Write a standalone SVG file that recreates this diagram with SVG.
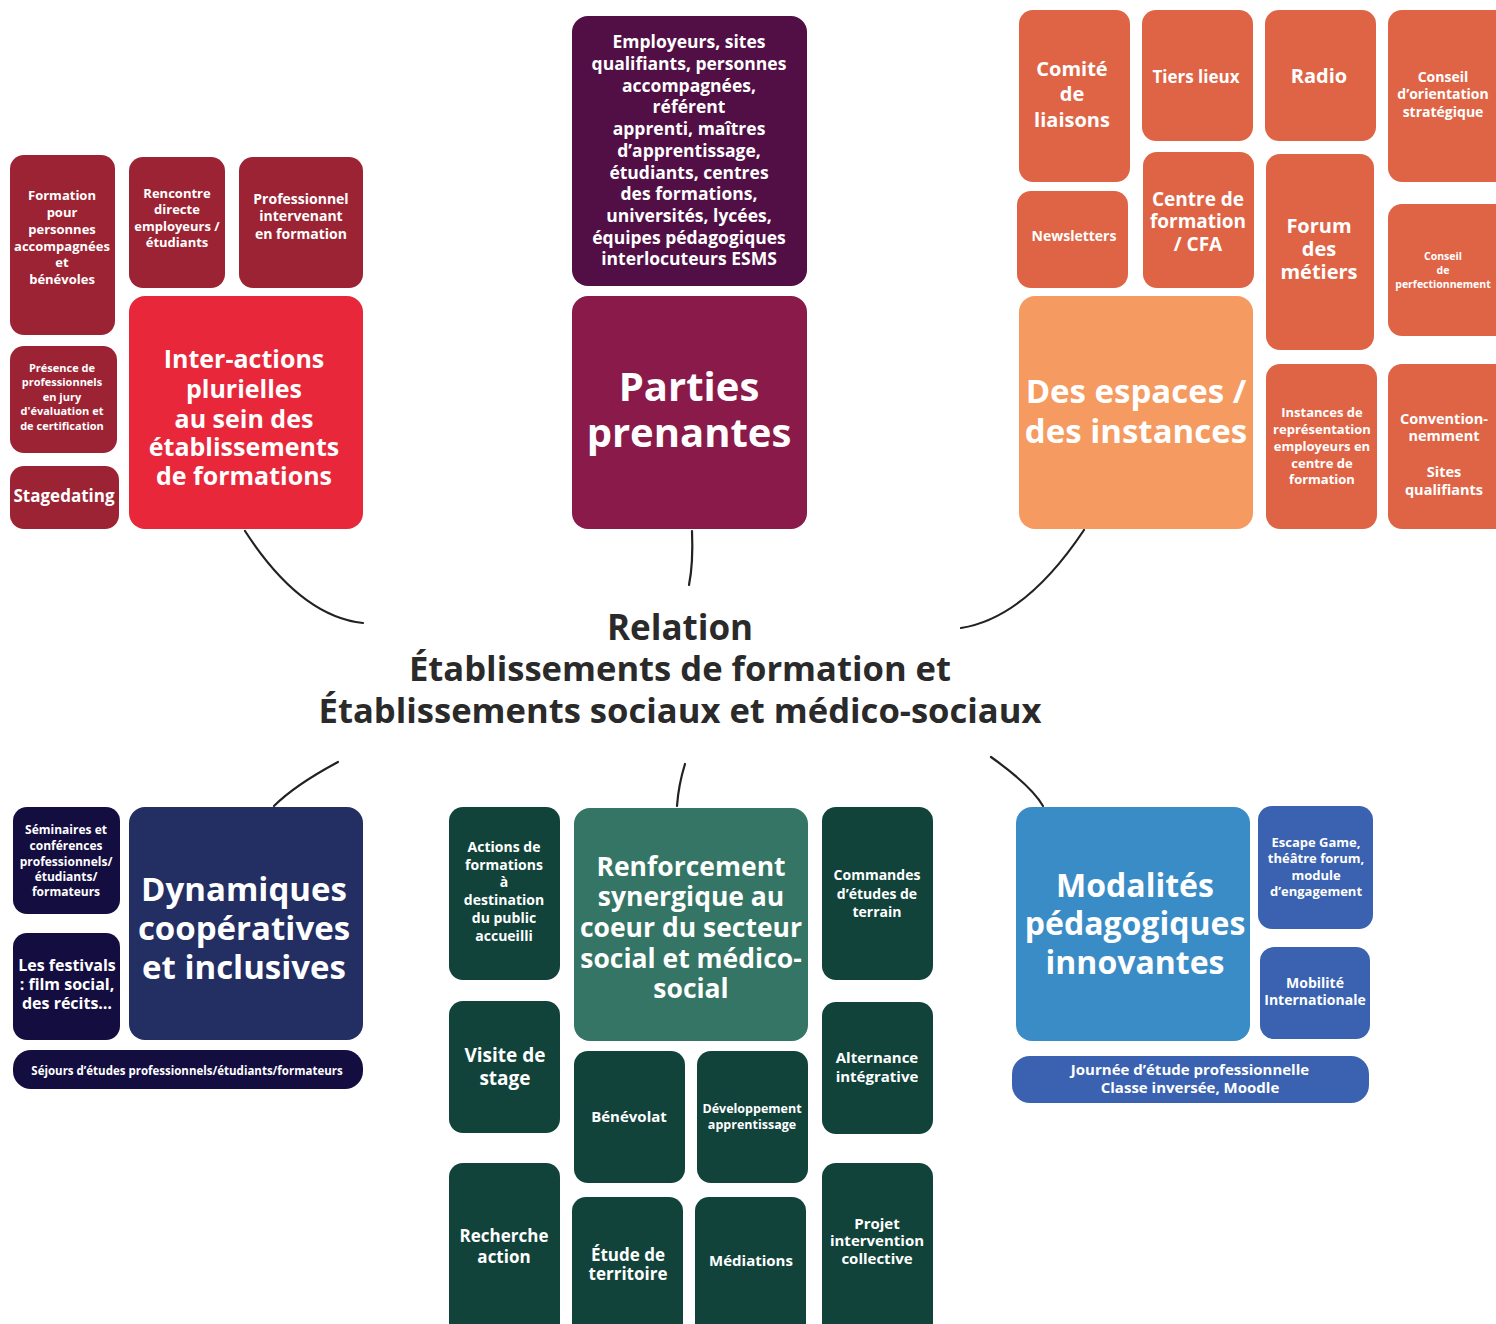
<svg xmlns="http://www.w3.org/2000/svg" width="1496" height="1324" viewBox="0 0 1496 1324">
<style>
text{font-family:"Open Sans","Noto Sans","Liberation Sans",sans-serif;font-weight:bold;fill:#fff;text-anchor:middle;dominant-baseline:central}
.title text,text.title{fill:#2a2a2a}
.dr{fill:#9c2333}
.red{fill:#e8283a}
.plum{fill:#520f45}
.wine{fill:#8a1a4a}
.org{fill:#df6446}
.lorg{fill:#f59a60}
.navy{fill:#140d40}
.blue2{fill:#232e63}
.dg{fill:#11433b}
.mg{fill:#357565}
.sky{fill:#3a8cc7}
.rb{fill:#3a62b0}
.conn path{fill:none;stroke:#222;stroke-width:2.2;stroke-linecap:round}
</style>
<rect width="1496" height="1324" fill="#fff"/>

<g class="conn" id="connectors">
<path d="M245,531 C280,585 318,618 363,623"/>
<path d="M692,531 C693,555 692,570 689,585"/>
<path d="M1084,530 C1052,578 1012,620 961,628"/>
<path d="M338,762 C310,777 290,790 274,806"/>
<path d="M685,764 C680,780 678,792 677,806"/>
<path d="M991,757 C1012,772 1034,790 1043,806"/>
</g>

<g id="center" class="title">
<text x="680" y="626" style="font-size:35px">Relation</text>
<text x="680" y="667" style="font-size:34.6px">Établissements de formation et</text>
<text x="680" y="709" style="font-size:34.6px">Établissements sociaux et médico-sociaux</text>
</g>

<!-- Top-left cluster -->
<g id="n-formation"><rect class="dr" x="10" y="155" width="105" height="180" rx="14"/>
<text style="font-size:13px"><tspan x="62" y="195">Formation</tspan><tspan x="62" y="212">pour</tspan><tspan x="62" y="229">personnes</tspan><tspan x="62" y="246">accompagnées</tspan><tspan x="62" y="262">et</tspan><tspan x="62" y="279">bénévoles</tspan></text></g>
<g id="n-rencontre"><rect class="dr" x="129" y="157" width="96" height="131" rx="14"/>
<text style="font-size:13px"><tspan x="177" y="193">Rencontre</tspan><tspan x="177" y="209">directe</tspan><tspan x="177" y="226">employeurs /</tspan><tspan x="177" y="242">étudiants</tspan></text></g>
<g id="n-professionnel"><rect class="dr" x="239" y="157" width="124" height="131" rx="14"/>
<text style="font-size:14px"><tspan x="301" y="198">Professionnel</tspan><tspan x="301" y="215">intervenant</tspan><tspan x="301" y="233">en formation</tspan></text></g>
<g id="n-presence"><rect class="dr" x="10" y="346" width="107" height="107" rx="14"/>
<text style="font-size:11px"><tspan x="62" y="367">Présence de</tspan><tspan x="62" y="381">professionnels</tspan><tspan x="62" y="396">en jury</tspan><tspan x="62" y="410">d'évaluation et</tspan><tspan x="62" y="425">de certification</tspan></text></g>
<g id="n-stagedating"><rect class="dr" x="10" y="466" width="109" height="63" rx="14"/>
<text x="64" y="495" style="font-size:17px">Stagedating</text></g>
<g id="n-interactions"><rect class="red" x="129" y="296" width="234" height="233" rx="16"/>
<text style="font-size:25px"><tspan x="244" y="358">Inter-actions</tspan><tspan x="244" y="388">plurielles</tspan><tspan x="244" y="418">au sein des</tspan><tspan x="244" y="446">établissements</tspan><tspan x="244" y="475">de formations</tspan></text></g>

<!-- Top-middle -->
<g id="n-employeurs"><rect class="plum" x="572" y="16" width="235" height="270" rx="16"/>
<text style="font-size:17.5px"><tspan x="689" y="41">Employeurs, sites</tspan><tspan x="689" y="63">qualifiants, personnes</tspan><tspan x="689" y="85">accompagnées,</tspan><tspan x="689" y="106">référent</tspan><tspan x="689" y="128">apprenti, maîtres</tspan><tspan x="689" y="150">d’apprentissage,</tspan><tspan x="689" y="172">étudiants, centres</tspan><tspan x="689" y="193">des formations,</tspan><tspan x="689" y="215">universités, lycées,</tspan><tspan x="689" y="237">équipes pédagogiques</tspan><tspan x="689" y="258">interlocuteurs ESMS</tspan></text></g>
<g id="n-parties"><rect class="wine" x="572" y="296" width="235" height="233" rx="16"/>
<text style="font-size:40px"><tspan x="689" y="385">Parties</tspan><tspan x="689" y="431">prenantes</tspan></text></g>

<!-- Top-right cluster -->
<g id="n-comite"><rect class="org" x="1019" y="10" width="111" height="172" rx="14"/>
<text style="font-size:20px"><tspan x="1072" y="68">Comité</tspan><tspan x="1072" y="93">de</tspan><tspan x="1072" y="119">liaisons</tspan></text></g>
<g id="n-tiers"><rect class="org" x="1142" y="10" width="111" height="131" rx="14"/>
<text x="1196" y="76" style="font-size:17px">Tiers lieux</text></g>
<g id="n-radio"><rect class="org" x="1265" y="10" width="111" height="131" rx="14"/>
<text x="1319" y="75" style="font-size:20px">Radio</text></g>
<g id="n-conseil-orientation"><rect class="org" x="1388" y="10" width="122" height="172" rx="14"/>
<text style="font-size:14px"><tspan x="1443" y="76">Conseil</tspan><tspan x="1443" y="93">d’orientation</tspan><tspan x="1443" y="111">stratégique</tspan></text></g>
<g id="n-newsletters"><rect class="org" x="1017" y="191" width="111" height="97" rx="14"/>
<text x="1074" y="235" style="font-size:14px">Newsletters</text></g>
<g id="n-centre"><rect class="org" x="1143" y="152" width="111" height="136" rx="14"/>
<text style="font-size:19px"><tspan x="1198" y="199">Centre de</tspan><tspan x="1198" y="221">formation</tspan><tspan x="1198" y="244">/ CFA</tspan></text></g>
<g id="n-forum"><rect class="org" x="1266" y="154" width="108" height="196" rx="14"/>
<text style="font-size:20px"><tspan x="1319" y="225">Forum</tspan><tspan x="1319" y="248">des</tspan><tspan x="1319" y="271">métiers</tspan></text></g>
<g id="n-conseil-perf"><rect class="org" x="1388" y="204" width="122" height="132" rx="14"/>
<text style="font-size:10.5px"><tspan x="1443" y="256">Conseil</tspan><tspan x="1443" y="270">de</tspan><tspan x="1443" y="284">perfectionnement</tspan></text></g>
<g id="n-espaces"><rect class="lorg" x="1019" y="296" width="234" height="233" rx="16"/>
<text style="font-size:33px"><tspan x="1136" y="390">Des espaces /</tspan><tspan x="1136" y="430">des instances</tspan></text></g>
<g id="n-instances"><rect class="org" x="1266" y="364" width="111" height="165" rx="14"/>
<text style="font-size:13px"><tspan x="1322" y="412">Instances de</tspan><tspan x="1322" y="429">représentation</tspan><tspan x="1322" y="446">employeurs en</tspan><tspan x="1322" y="463">centre de</tspan><tspan x="1322" y="479">formation</tspan></text></g>
<g id="n-convention"><rect class="org" x="1388" y="364" width="122" height="165" rx="14"/>
<text style="font-size:14.5px"><tspan x="1444" y="418">Convention-</tspan><tspan x="1444" y="435">nemment</tspan><tspan x="1444" y="471">Sites</tspan><tspan x="1444" y="489">qualifiants</tspan></text></g>

<!-- Bottom-left cluster -->
<g id="n-seminaires"><rect class="navy" x="13" y="807" width="107" height="107" rx="14"/>
<text style="font-size:12px"><tspan x="66" y="829">Séminaires et</tspan><tspan x="66" y="845">conférences</tspan><tspan x="66" y="861">professionnels/</tspan><tspan x="66" y="876">étudiants/</tspan><tspan x="66" y="891">formateurs</tspan></text></g>
<g id="n-festivals"><rect class="navy" x="13" y="933" width="107" height="107" rx="14"/>
<text style="font-size:16px"><tspan x="67" y="965">Les festivals</tspan><tspan x="67" y="984">: film social,</tspan><tspan x="67" y="1003">des récits…</tspan></text></g>
<g id="n-dynamiques"><rect class="blue2" x="129" y="807" width="234" height="233" rx="16"/>
<text style="font-size:33px"><tspan x="244" y="888">Dynamiques</tspan><tspan x="244" y="927">coopératives</tspan><tspan x="244" y="966">et inclusives</tspan></text></g>
<g id="n-sejours"><rect class="navy" x="13" y="1050" width="350" height="39" rx="18"/>
<text x="187" y="1070" style="font-size:11.5px">Séjours d’études professionnels/étudiants/formateurs</text></g>

<!-- Bottom-middle cluster -->
<g id="n-actions"><rect class="dg" x="449" y="807" width="111" height="173" rx="14"/>
<text style="font-size:14px"><tspan x="504" y="846">Actions de</tspan><tspan x="504" y="864">formations</tspan><tspan x="504" y="881">à</tspan><tspan x="504" y="899">destination</tspan><tspan x="504" y="917">du public</tspan><tspan x="504" y="935">accueilli</tspan></text></g>
<g id="n-renforcement"><rect class="mg" x="574" y="808" width="234" height="233" rx="16"/>
<text style="font-size:26.5px"><tspan x="691" y="866">Renforcement</tspan><tspan x="691" y="896">synergique au</tspan><tspan x="691" y="927">coeur du secteur</tspan><tspan x="691" y="958">social et médico-</tspan><tspan x="691" y="988">social</tspan></text></g>
<g id="n-commandes"><rect class="dg" x="822" y="807" width="111" height="173" rx="14"/>
<text style="font-size:14px"><tspan x="877" y="874">Commandes</tspan><tspan x="877" y="893">d’études de</tspan><tspan x="877" y="911">terrain</tspan></text></g>
<g id="n-visite"><rect class="dg" x="449" y="1001" width="111" height="132" rx="14"/>
<text style="font-size:19px"><tspan x="505" y="1055">Visite de</tspan><tspan x="505" y="1078">stage</tspan></text></g>
<g id="n-benevolat"><rect class="dg" x="574" y="1051" width="111" height="132" rx="14"/>
<text x="629" y="1116" style="font-size:15px">Bénévolat</text></g>
<g id="n-developpement"><rect class="dg" x="697" y="1051" width="111" height="132" rx="14"/>
<text style="font-size:12.5px"><tspan x="752" y="1108">Développement</tspan><tspan x="752" y="1124">apprentissage</tspan></text></g>
<g id="n-alternance"><rect class="dg" x="822" y="1002" width="111" height="132" rx="14"/>
<text style="font-size:15px"><tspan x="877" y="1057">Alternance</tspan><tspan x="877" y="1076">intégrative</tspan></text></g>
<g id="n-recherche"><rect class="dg" x="449" y="1163" width="111" height="180" rx="14"/>
<text style="font-size:17px"><tspan x="504" y="1235">Recherche</tspan><tspan x="504" y="1256">action</tspan></text></g>
<g id="n-etude"><rect class="dg" x="572" y="1197" width="111" height="150" rx="14"/>
<text style="font-size:17px"><tspan x="628" y="1254">Étude de</tspan><tspan x="628" y="1273">territoire</tspan></text></g>
<g id="n-mediations"><rect class="dg" x="695" y="1197" width="111" height="150" rx="14"/>
<text x="751" y="1260" style="font-size:15px">Médiations</text></g>
<g id="n-projet"><rect class="dg" x="822" y="1163" width="111" height="180" rx="14"/>
<text style="font-size:15px"><tspan x="877" y="1223">Projet</tspan><tspan x="877" y="1240">intervention</tspan><tspan x="877" y="1258">collective</tspan></text></g>

<!-- Bottom-right cluster -->
<g id="n-modalites"><rect class="sky" x="1016" y="807" width="234" height="234" rx="16"/>
<text style="font-size:32px"><tspan x="1135" y="884">Modalités</tspan><tspan x="1135" y="922">pédagogiques</tspan><tspan x="1135" y="961">innovantes</tspan></text></g>
<g id="n-escape"><rect class="rb" x="1258" y="806" width="115" height="123" rx="14"/>
<text style="font-size:13px"><tspan x="1316" y="842">Escape Game,</tspan><tspan x="1316" y="858">théâtre forum,</tspan><tspan x="1316" y="875">module</tspan><tspan x="1316" y="891">d’engagement</tspan></text></g>
<g id="n-mobilite"><rect class="rb" x="1260" y="947" width="110" height="92" rx="14"/>
<text style="font-size:14px"><tspan x="1315" y="982">Mobilité</tspan><tspan x="1315" y="999">Internationale</tspan></text></g>
<g id="n-journee"><rect class="rb" x="1012" y="1056" width="357" height="47" rx="18"/>
<text style="font-size:15px"><tspan x="1190" y="1069">Journée d’étude professionnelle</tspan><tspan x="1190" y="1087">Classe inversée, Moodle</tspan></text></g>
</svg>
